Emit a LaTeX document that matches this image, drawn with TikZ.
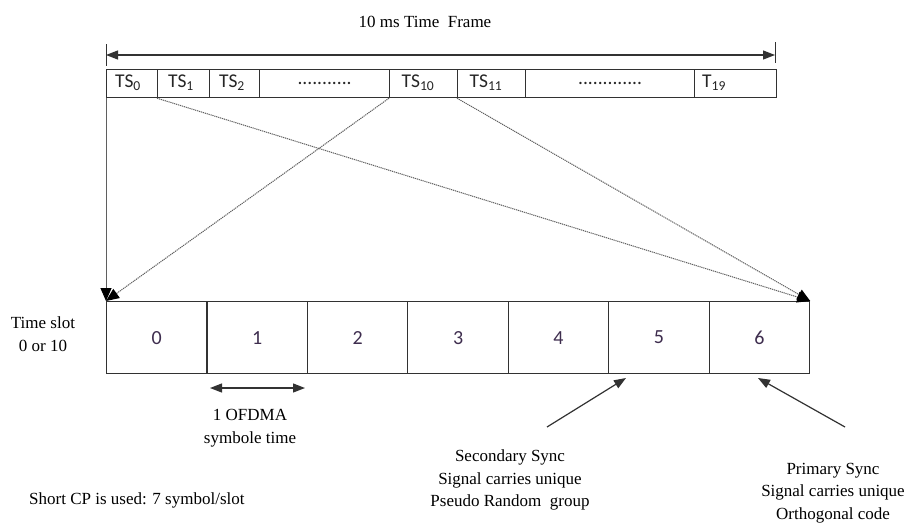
\documentclass[tikz,border=0pt]{standalone}
\usepackage{fontspec}
\setmainfont{Liberation Serif}
\newfontfamily\cellfont{Carlito}
\usetikzlibrary{arrows.meta}
\definecolor{boxline}{RGB}{50,50,50}
\definecolor{slotnum}{RGB}{62,45,78}
\definecolor{mapline}{RGB}{95,95,95}
\begin{document}
\begin{tikzpicture}[x=1pt,y=-1pt,
  topcell/.style={draw=boxline,line width=1.2pt,minimum height=28pt,inner sep=0pt,anchor=north west},
  slotcell/.style={draw=boxline,line width=1.2pt,minimum width=100.43pt,minimum height=72pt,inner sep=0pt,anchor=north west,
    font=\cellfont\fontsize{20}{22}\selectfont,text=slotnum},
  tslabel/.style={font=\cellfont\fontsize{19.5}{21}\selectfont,inner sep=0pt,text=black!85},
  serif/.style={font=\fontsize{17}{22.5}\selectfont,inner sep=0pt,align=center},
  maptip/.style={-{Triangle[length=13pt,width=11pt,color=black]}},
  mapdotted/.style={maptip,draw=mapline,line width=1pt,dash pattern=on 1.2pt off 0.8pt},
  mapsolid/.style={maptip,draw=mapline,line width=1pt},
  pointer/.style={draw=boxline,line width=1.2pt,-{Triangle[length=12pt,width=9pt]}},
  span/.style={draw=boxline,line width=1.2pt,{Triangle[length=12pt,width=9pt]}-{Triangle[length=12pt,width=9pt]}}]
\useasboundingbox (0,0) rectangle (909,523);
\fill[white] (0,0) rectangle (909,523);

% frame title and span arrow
\node[serif] (title) at (425,22) {10 ms Time\ \ Frame};
\coordinate (spanL) at (106,55);
\coordinate (spanR) at (775,55);
\draw[span] (spanL) -- (spanR);
\draw[boxline,line width=1pt] (106,44) -- (106,66);
\draw[boxline,line width=1pt] (775,42) -- (775,63);

% the 20 time slots of the frame
\node[topcell,minimum width=51pt]  (ts0)  at (106,69) {};
\node[topcell,minimum width=52pt]  (ts1)  at (157,69) {};
\node[topcell,minimum width=50pt]  (ts2)  at (209,69) {};
\node[topcell,minimum width=130pt] (dotsA) at (259,69) {};
\node[topcell,minimum width=68pt]  (ts10) at (389,69) {};
\node[topcell,minimum width=68pt]  (ts11) at (457,69) {};
\node[topcell,minimum width=169pt] (dotsB) at (525,69) {};
\node[topcell,minimum width=82pt]  (ts19) at (694,69) {};

\node[tslabel] (l0)  at (128,83) {TS\textsubscript{0}};
\node[tslabel] (l1)  at (181,83) {TS\textsubscript{1}};
\node[tslabel] (l2)  at (232,83) {TS\textsubscript{2}};
\node[tslabel] (lA)  at (dotsA.center) {...........};
\node[tslabel] (l10) at (418,83) {TS\textsubscript{10}};
\node[tslabel] (l11) at (486,83) {TS\textsubscript{11}};
\node[tslabel] (lB)  at (dotsB.center) {.............};
\node[tslabel] (l19) at (714,83) {T\textsubscript{19}};

% the 7 OFDMA symbols of one slot
\foreach \i in {0,...,6}
  \node[slotcell] (s\i) at ({106+100.43*\i},301) {\i};

\node[serif] (slotname) at (43,334) {Time slot\\0 or 10};

% slots 0 and 10 map onto the symbol row
\draw[mapsolid]  (ts0.south west)  -- (s0.north west);
\draw[mapdotted] (ts10.south west) -- (s0.north west);
\draw[mapdotted] (ts1.south west)  -- (s6.north east);
\draw[mapdotted] (ts11.south west) -- (s6.north east);

% one symbol duration
\coordinate (symL) at (210,388);
\coordinate (symR) at (305,388);
\draw[span] (symL) -- (symR);
\node[serif] (symtext) at (250,428) {1 OFDMA\\symbole time};

% sync signal annotations
\coordinate (secFoot) at (547,427);
\coordinate (secTip) at (626,378);
\draw[pointer] (secFoot) -- (secTip);
\node[serif] (sectext) at (510,480) {Secondary Sync\\Signal carries unique\\Pseudo Random\ \ group};

\coordinate (priFoot) at (845,427);
\coordinate (priTip) at (758,378);
\draw[pointer] (priFoot) -- (priTip);
\node[serif] (pritext) at (833,493) {Primary Sync\\Signal carries unique\\Orthogonal code};

\node[serif,anchor=west] (cpnote) at (29,500) {Short CP is used: 7 symbol/slot};
\end{tikzpicture}
\end{document}
